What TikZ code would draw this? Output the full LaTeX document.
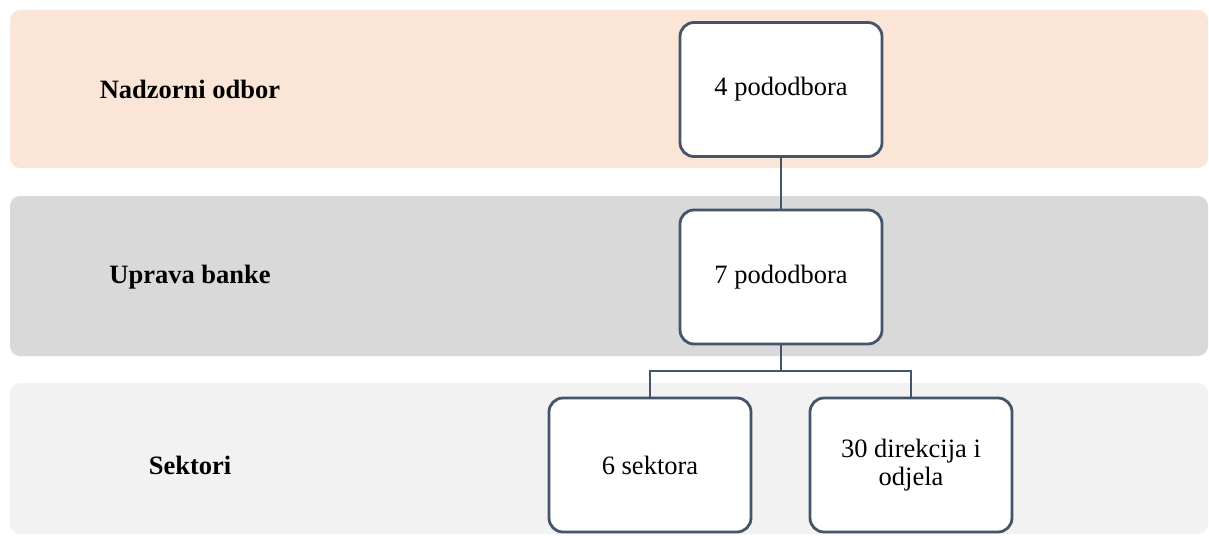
\documentclass[tikz,border=0pt]{standalone}
\usepackage{fontspec}
\setmainfont{Liberation Serif}
\definecolor{bandA}{HTML}{FBE5D6}
\definecolor{bandB}{HTML}{D9D9D9}
\definecolor{bandC}{HTML}{F2F2F2}
\definecolor{edge}{HTML}{44546A}
\begin{document}
\begin{tikzpicture}[x=1pt,y=-1pt,
  band/.style={rounded corners=10pt},
  orgbox/.style={draw=edge, line width=2.8pt, fill=white, rounded corners=14pt,
    minimum width=202pt, minimum height=134pt, inner sep=0pt, align=center,
    font=\fontsize{26.5}{28}\selectfont},
  bandlabel/.style={font=\fontsize{26.5}{28}\selectfont\bfseries},
  conn/.style={draw=edge, line width=2.8pt}]
\useasboundingbox (0,0) rectangle (1209,535);
\fill[band, bandA] (10,10) rectangle (1208,168);
\fill[band, bandB] (10,196) rectangle (1208,356);
\fill[band, bandC] (10,383) rectangle (1208,534);
\node[bandlabel] (l1) at (190,89) {Nadzorni odbor};
\node[bandlabel] (l2) at (190,277) {Uprava banke};
\node[bandlabel] (l3) at (190,465) {Sektori};
\node[orgbox] (b1) at (781,89.5) {4 pododbora};
\node[orgbox] (b2) at (781,277) {7 pododbora};
\node[orgbox] (b3) at (650,465) {6 sektora};
\node[orgbox] (b4) at (911,465) {30 direkcija i\\odjela};
\coordinate (j) at (781,371);
\draw[conn] (b1.south) -- (b2.north);
\draw[conn] (b2.south) -- (j);
\draw[conn] (b3.north) |- (j) -| (b4.north);
\end{tikzpicture}
\end{document}
